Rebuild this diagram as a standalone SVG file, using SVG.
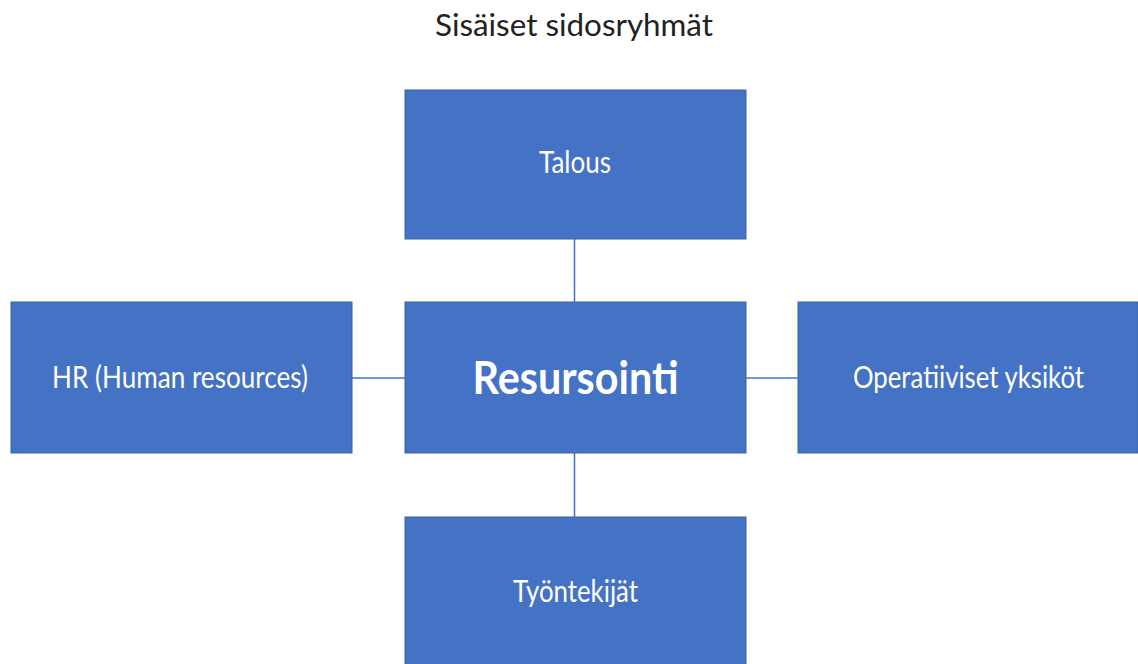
<svg xmlns="http://www.w3.org/2000/svg" width="1138" height="664" viewBox="0 0 1138 664">
<style>
.box{fill:#4472C4;stroke:#3A62A8;stroke-width:1}
.lbl{font-family:Lato,"Open Sans","Liberation Sans",sans-serif;fill:#FFFFFF;text-anchor:middle;font-size:30px}
.big{font-size:45px;font-weight:bold}
.title{font-family:Lato,"Open Sans","Liberation Sans",sans-serif;fill:#222222;text-anchor:middle;font-size:30px}
.conn{stroke:#4472C4;stroke-width:1.5;fill:none}
</style>
<rect width="1138" height="664" fill="#FFFFFF"/>
<text class="title" x="574" y="36" textLength="278" lengthAdjust="spacingAndGlyphs">Sisäiset sidosryhmät</text>
<g id="connectors">
<line class="conn" x1="574.5" y1="239" x2="574.5" y2="302"/>
<line class="conn" x1="574.5" y1="453" x2="574.5" y2="517"/>
<line class="conn" x1="352" y1="378" x2="405" y2="378"/>
<line class="conn" x1="746" y1="378" x2="798" y2="378"/>
</g>
<g id="talous">
<rect class="box" x="405" y="90" width="341" height="149"/>
<text class="lbl" x="575" y="173" textLength="72" lengthAdjust="spacingAndGlyphs">Talous</text>
</g>
<g id="resursointi">
<rect class="box" x="405" y="302" width="341" height="151"/>
<text class="lbl big" x="575.5" y="394" textLength="206" lengthAdjust="spacingAndGlyphs">Resursointi</text>
</g>
<g id="hr">
<rect class="box" x="11" y="302" width="341" height="151"/>
<text class="lbl" x="180" y="388" textLength="256" lengthAdjust="spacingAndGlyphs">HR (Human resources)</text>
</g>
<g id="operatiiviset">
<rect class="box" x="798" y="302" width="340" height="151"/>
<text class="lbl" x="968.5" y="388" textLength="231" lengthAdjust="spacingAndGlyphs">Operatiiviset yksiköt</text>
</g>
<g id="tyontekijat">
<rect class="box" x="405" y="517" width="341" height="160"/>
<text class="lbl" x="575.5" y="602" textLength="125" lengthAdjust="spacingAndGlyphs">Työntekijät</text>
</g>
</svg>
